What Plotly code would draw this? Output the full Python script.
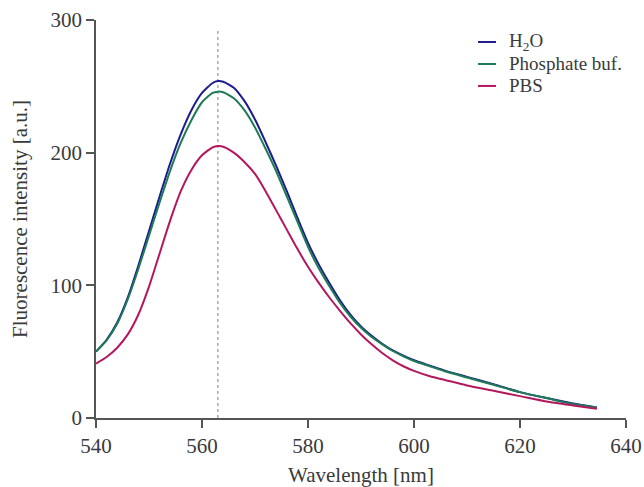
import plotly.graph_objects as go

wavelength = [540, 542, 544, 546, 548, 550, 552, 554, 556, 558, 560, 562, 563,
              564, 566, 568, 570, 572, 574, 576, 578, 580, 582, 584, 586, 588,
              590, 592, 594, 596, 598, 600, 603, 606, 610, 615, 620, 625, 630, 634.5]
h2o = [50, 59, 72, 91, 115, 141, 167, 192, 214, 232, 245, 252.5, 254,
       253.5, 249, 239, 225, 208, 190, 171, 151, 132, 116, 102, 89, 78,
       69, 62, 56, 51, 47, 43.5, 39.5, 35.5, 31, 25.5, 19.5, 15, 11, 8]
phosphate = [50, 58.5, 71, 89.5, 112.5, 137.5, 162.5, 186.5, 207.5, 224.5, 238, 245, 246,
             245.5, 241, 232, 219, 203, 186, 167, 148, 129, 113, 99.5, 87, 76.5,
             68, 61, 55.5, 50.5, 46.5, 43, 39, 35, 30.5, 25, 19.5, 15, 10.5, 8]
pbs = [41, 46, 53, 63, 78, 99, 124, 149, 171, 187, 198, 204, 205,
       204.5, 200, 193, 184, 171, 156.5, 142, 127.5, 114, 102, 91, 81, 71.5,
       63, 55.5, 49, 43.5, 39, 35.5, 31.5, 28.5, 24.5, 20.5, 16.5, 12.5, 9.5, 7]
series_names = ["H<sub>2</sub>O", "Phosphate buf.", "PBS"]
peak_wl = 563
peak_line_top = 292
x_ticks = [540, 560, 580, 600, 620, 640]
y_ticks = [0, 100, 200, 300]

colors = ["#1c1c8c", "#1e7b56", "#b3185e"]
FONT = "Liberation Serif, Times New Roman, Times, serif"
TXT = "#3a3a3a"

fig = go.Figure()
for name, vals, c in zip(series_names, [h2o, phosphate, pbs], colors):
    fig.add_trace(go.Scatter(x=wavelength, y=vals, name=name, mode="lines", showlegend=False,
                             line=dict(color=c, width=2, shape="spline", smoothing=0.6)))

fig.add_shape(type="line", xref="x", yref="y", x0=peak_wl, x1=peak_wl, y0=0, y1=peak_line_top,
              line=dict(color="#8c8c8c", width=1.1, dash="dot"), layer="below")

# legend drawn manually (short line samples, tight rows like the reference)
leg_y = [0.9448, 0.8895, 0.8343]
for name, c, yy in zip(series_names, colors, leg_y):
    fig.add_shape(type="line", xref="paper", yref="paper", x0=0.7208, x1=0.7547, y0=yy, y1=yy,
                  line=dict(color=c, width=2))
    fig.add_annotation(xref="paper", yref="paper", x=0.776, y=yy, text=name, showarrow=False,
                       xanchor="left", yanchor="middle",
                       font=dict(family=FONT, size=19, color=TXT))

axis_common = dict(showline=True, linecolor="#555555", linewidth=1.5, ticks="outside",
                   ticklen=8, tickwidth=1.5, tickcolor="#555555", showgrid=False,
                   zeroline=False, automargin=False,
                   tickfont=dict(family=FONT, size=21, color=TXT))

fig.update_layout(
    width=644, height=487,
    margin=dict(l=96, r=18, t=20, b=69),
    paper_bgcolor="white", plot_bgcolor="white",
    font=dict(family=FONT, color=TXT),
    xaxis=dict(range=[540, 640], tickvals=x_ticks,
               title=dict(text="Wavelength [nm]", font=dict(family=FONT, size=21, color=TXT), standoff=12),
               **axis_common),
    yaxis=dict(range=[0, 300], tickvals=y_ticks,
               title=dict(text="Fluorescence intensity [a.u.]", font=dict(family=FONT, size=21, color=TXT), standoff=17),
               **axis_common),
    showlegend=False,
)

fig.write_html("out.html")
